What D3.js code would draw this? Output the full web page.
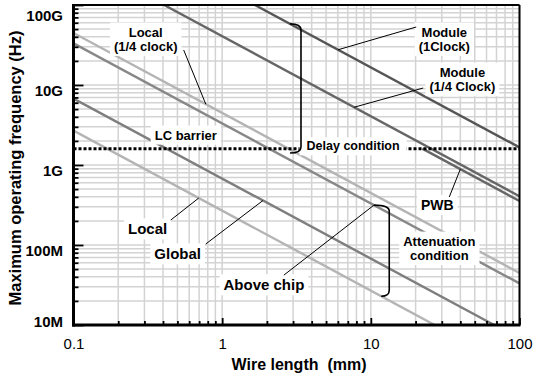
<!DOCTYPE html>
<html>
<head>
<meta charset="utf-8">
<script src="https://cdn.jsdelivr.net/npm/d3@7"></script>
<style>
  body { margin: 0; background: #fff; }
  svg { display: block; font-family: "Liberation Sans", Arial, Helvetica, sans-serif; }
</style>
</head>
<body>
<svg id="chart" width="539" height="377"></svg>
<script>
// each line: [wire length (mm), max frequency (Hz)] end points
const moduleClock = [[1.66, 1e11], [100, 1.66e9]];
const moduleQuarter = [[0.407, 1e11], [100, 4.07e8]];
const pwb = [[22.2, 1.6e9], [100, 3.55e8]];
const localQuarter = [[0.1, 4.47e10], [100, 4.47e7]];
const aboveChip = [[0.1, 3.31e10], [100, 3.31e7]];
const globalWire = [[0.1, 6.76e9], [67.6, 1e7]];
const localWire = [[0.1, 2.69e9], [26.9, 1e7]];
const delayLimit = 1.6e9;

const xTickValues = [0.1, 1, 10, 100];
const xTickLabels = ['0.1', '1', '10', '100'];
const yTickValues = [1e7, 1e8, 1e9, 1e10, 1e11];
const yTickLabels = ['10M', '100M', '1G', '10G', '100G'];

const series = [
  { name: 'Local', data: localWire, color: '#b4b4b4' },
  { name: 'Global', data: globalWire, color: '#7e7e7e' },
  { name: 'Above chip', data: aboveChip, color: '#888' },
  { name: 'Local (1/4 clock)', data: localQuarter, color: '#b4b4b4' },
  { name: 'PWB', data: pwb, color: '#666' },
  { name: 'Module (1/4 Clock)', data: moduleQuarter, color: '#666' },
  { name: 'Module (1Clock)', data: moduleClock, color: '#555' }
];

// annotation text, placed in data coordinates
const notes = [
  { lines: ['Local', '(1/4 clock)'], L: 0.306, f: 4.6e10, size: 13 },
  { lines: ['LC barrier'], L: 0.569, f: 2.37e9, size: 13 },
  { lines: ['Module', '(1Clock)'], L: 31.2, f: 4.6e10, size: 13 },
  { lines: ['Module', '(1/4 Clock)'], L: 41.3, f: 1.45e10, size: 13 },
  { lines: ['Delay condition'], L: 7.6, f: 1.73e9, size: 12.5, pad: 7 },
  { lines: ['PWB'], L: 28, f: 3.16e8, size: 14 },
  { lines: ['Attenuation', 'condition'], L: 28.9, f: 1.12e8, size: 13 },
  { lines: ['Local'], L: 0.315, f: 1.58e8, size: 15 },
  { lines: ['Global'], L: 0.502, f: 7.7e7, size: 15 },
  { lines: ['Above chip'], L: 1.91, f: 3.16e7, size: 15 }
];

const pointers = [
  { from: [0.551, 2.74e10], to: localQuarter, L: 0.776 },
  { from: [20.2, 5.31e10], to: moduleClock, L: 6.02 },
  { from: [22.5, 9.17e9], to: moduleQuarter, L: 7.72 },
  { from: [33.7, 3.98e8], to: pwb, L: 40 },
  { from: [0.451, 2.05e8], to: localWire, L: 0.696 },
  { from: [0.776, 1.03e8], to: globalWire, L: 1.88 },
  { from: [2.6, 4.2e7], to: aboveChip, L: 10.5 }
];

const svg = d3.select('#chart');
const x = d3.scaleLog().domain([0.1, 100]).range([73.5, 519.5]);
const y = d3.scaleLog().domain([1e7, 1e11]).range([325, 5]);
const isMajor = (v) => Math.abs(Math.log10(v) - Math.round(Math.log10(v))) < 1e-6;

// frequency on a line at wire length L (straight in log-log)
function onLine(d, L) {
  const t = (Math.log10(L) - Math.log10(d[0][0])) / (Math.log10(d[1][0]) - Math.log10(d[0][0]));
  return Math.pow(10, Math.log10(d[0][1]) + t * (Math.log10(d[1][1]) - Math.log10(d[0][1])));
}

// grid
const grid = svg.append('g').attr('stroke', '#d3d3d3').attr('stroke-width', 1.5);
grid.selectAll(null).data(x.ticks()).enter().append('line')
  .attr('x1', (d) => x(d)).attr('x2', (d) => x(d))
  .attr('y1', y(1e11)).attr('y2', y(1e7));
grid.selectAll(null).data(y.ticks()).enter().append('line')
  .attr('y1', (d) => y(d)).attr('y2', (d) => y(d))
  .attr('x1', x(0.1)).attr('x2', x(100));

svg.append('clipPath').attr('id', 'plot').append('rect')
  .attr('x', x(0.1)).attr('y', y(1e11))
  .attr('width', x(100) - x(0.1)).attr('height', y(1e7) - y(1e11));

const line = d3.line().x((d) => x(d[0])).y((d) => y(d[1]));
svg.append('g').attr('clip-path', 'url(#plot)')
  .selectAll('path').data(series).enter().append('path')
  .attr('d', (d) => line(d.data))
  .attr('fill', 'none')
  .attr('stroke', (d) => d.color)
  .attr('stroke-width', 2.4);

// delay condition / LC barrier
svg.append('line')
  .attr('x1', x(0.1)).attr('x2', x(100))
  .attr('y1', y(delayLimit)).attr('y2', y(delayLimit))
  .attr('stroke', '#000').attr('stroke-width', 3).attr('stroke-dasharray', '3,2');

// labels with white boxes
const noteG = svg.append('g').attr('font-weight', 'bold').attr('fill', '#000');
notes.forEach((n) => {
  const g = noteG.append('g');
  const t = g.append('text').attr('text-anchor', 'middle').attr('font-size', n.size);
  n.lines.forEach((s, i) => {
    t.append('tspan').attr('x', x(n.L)).attr('y', y(n.f) + i * 14.5).attr('dy', '0.35em').text(s);
  });
  const b = t.node().getBBox();
  const pad = n.pad || 4;
  g.insert('rect', 'text')
    .attr('x', b.x - pad).attr('y', b.y - 2)
    .attr('width', b.width + pad * 2).attr('height', b.height + 4)
    .attr('fill', '#fff');
});

// pointer lines
svg.append('g').attr('stroke', '#000').attr('stroke-width', 1)
  .selectAll('line').data(pointers).enter().append('line')
  .attr('x1', (p) => x(p.from[0])).attr('y1', (p) => y(p.from[1]))
  .attr('x2', (p) => x(p.L)).attr('y2', (p) => y(onLine(p.to, p.L)));

// brackets
function bracket(x0, y0, xs, x1, y1) {
  return `M${x0},${y0} Q${xs},${y0} ${xs},${y0 + 6} L${xs},${y1 - 6} Q${xs},${y1} ${x1},${y1}`;
}
const brackets = [
  { top: [2.86, onLine(moduleClock, 2.86)], spine: 3.39, bottom: [2.86, 1.41e9] },
  { top: [10.5, onLine(aboveChip, 10.5)], spine: 13.3, bottom: [11.74, onLine(localWire, 11.74)] }
];
svg.append('g').selectAll('path').data(brackets).enter().append('path')
  .attr('d', (b) => bracket(x(b.top[0]), y(b.top[1]), x(b.spine), x(b.bottom[0]), y(b.bottom[1])))
  .attr('fill', 'none').attr('stroke', '#000').attr('stroke-width', 1.6);

// axes: inward ticks, major and minor
const minorX = x.ticks().filter((d) => !isMajor(d));
const minorY = y.ticks().filter((d) => !isMajor(d));

const xMinorAxis = svg.append('g').attr('transform', `translate(0,${y(1e7)})`)
  .call(d3.axisBottom(x).tickValues(minorX).tickSize(-4).tickFormat(''));
const xAxis = svg.append('g').attr('transform', `translate(0,${y(1e7)})`)
  .call(d3.axisBottom(x).tickValues(xTickValues).tickSize(-7).tickPadding(13)
    .tickFormat((d, i) => xTickLabels[i]));
xAxis.selectAll('text').attr('font-size', 15).attr('fill', '#000');

const yMinorAxis = svg.append('g').attr('transform', `translate(${x(0.1)},0)`)
  .call(d3.axisLeft(y).tickValues(minorY).tickSize(-5).tickFormat(''));
const yAxis = svg.append('g').attr('transform', `translate(${x(0.1)},0)`)
  .call(d3.axisLeft(y).tickValues(yTickValues).tickSize(-10).tickPadding(10.5)
    .tickFormat((d, i) => yTickLabels[i]));
yAxis.selectAll('text')
  .attr('font-size', 15).attr('font-weight', 'bold').attr('fill', '#000')
  .attr('y', (d) => Math.max(15, Math.min(321, y(d) + 5)) - y(d))
  .attr('dy', '0.35em');

[xMinorAxis, xAxis, yMinorAxis, yAxis].forEach((a) => {
  a.select('.domain').remove();
  a.attr('font-family', null);
  a.selectAll('.tick line').attr('stroke', '#000').attr('stroke-width', 1.8);
});

// frame
const frame = svg.append('g').attr('stroke', '#000');
frame.append('line').attr('x1', x(0.1)).attr('x2', x(100)).attr('y1', y(1e11)).attr('y2', y(1e11)).attr('stroke-width', 2);
frame.append('line').attr('x1', x(100)).attr('x2', x(100)).attr('y1', y(1e11)).attr('y2', y(1e7)).attr('stroke-width', 2);
frame.append('line').attr('x1', x(0.1)).attr('x2', x(0.1)).attr('y1', y(1e11) - 1).attr('y2', y(1e7) + 1.5).attr('stroke-width', 3);
frame.append('line').attr('x1', x(0.1) - 1.5).attr('x2', x(100) + 1).attr('y1', y(1e7)).attr('y2', y(1e7)).attr('stroke-width', 3);

// axis titles
svg.append('text')
  .attr('x', 299).attr('y', 370)
  .attr('text-anchor', 'middle').attr('font-size', 16).attr('font-weight', 'bold')
  .style('white-space', 'pre')
  .text('Wire length  (mm)');
svg.append('text')
  .attr('transform', 'translate(21,168) rotate(-90)')
  .attr('text-anchor', 'middle').attr('font-size', 16.5).attr('font-weight', 'bold')
  .text('Maximum operating frequency (Hz)');
</script>
</body>
</html>
